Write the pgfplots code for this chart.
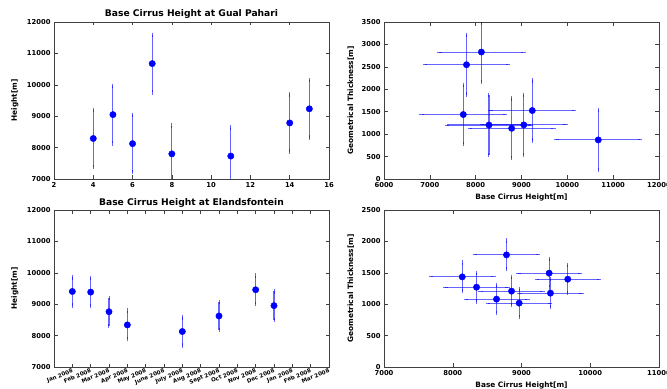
\documentclass[border=0pt]{standalone}
\usepackage{fontspec}
\setmainfont{DejaVu Sans}
\usepackage{pgfplots}
\usepackage{pgfplotstable}
\pgfplotsset{compat=1.18}
\definecolor{mplblue}{rgb}{0,0,1}

\pgfplotstableread{
x y ey
4 8290 910
5 9050 915
6 8125 910
7 10675 915
8 7800 900
11 7730 910
14 8785 910
15 9235 915
}\gualheight

\pgfplotstableread{
x y ex ey
7800 2547 905 665
8125 2830 915 663
7730 1437 910 659
8290 1203 910 666
9050 1206 910 666
8785 1130 910 667
9235 1526 915 670
10675 871 912 670
}\gualthick

\pgfplotstableread{
x y ey
1 9405 450
2 9385 450
3 8760 445
4 8340 455
7 8130 450
9 8625 445
11 9460 450
12 8955 450
}\elandheight

\pgfplotstableread{
x y ex ey
8138 1435 452 228
8346 1271 452 230
8637 1081 448 220
8782 1785 455 228
8855 1208 450 225
8966 1017 452 225
9402 1494 448 225
9421 1176 453 223
9673 1398 450 222
}\elandthick

\pgfplotsset{
  every axis title shift=0pt,
  base/.style={
    scale only axis, width=275bp, height=157bp,
    axis line style={black!75, line width=0.6bp},
    tick style={black!75, line width=0.5bp},
    major tick length=3.5bp,
    tick align=inside,
    scaled ticks=false,
    /pgf/number format/assume math mode=true,
    /pgf/number format/1000 sep={},
    ticklabel style={font=\fontsize{6.8}{7}\selectfont\bfseries},
    label style={font=\fontsize{7.4}{8}\selectfont\bfseries},
    title style={font=\fontsize{9.2}{10}\selectfont\bfseries, yshift=0pt},
    ylabel style={at={(axis description cs:-0.142,0.5)}, anchor=center, rotate=0},
    xlabel style={at={(axis description cs:0.5,-0.115)}, anchor=center},
  },
  pts/.style={only marks, mark=*, mark size=3.2bp, mplblue,
    mark options={fill=mplblue, draw=mplblue},
    error bars/error bar style={mplblue, opacity=0.6, line width=1.1bp},
    error bars/error mark options={mplblue, opacity=0.6, line width=1bp, mark size=2.2bp}},
}

\begin{document}
\begin{tikzpicture}
% top-left
\begin{axis}[base, at={(54bp,210bp)}, anchor=south west,
  xmin=2, xmax=16, xtick={2,4,...,16},
  ymin=7000, ymax=12000, ytick={7000,8000,...,12000},
  ylabel={Height[m]},
  title={Base Cirrus Height at Gual Pahari},
  title style={at={(0.5,1.049)}, anchor=center}]
\addplot+[pts, error bars/.cd, y dir=both, y explicit]
  table[x=x, y=y, y error=ey] {\gualheight};
\end{axis}
% top-right
\begin{axis}[base, at={(384bp,210bp)}, anchor=south west,
  xmin=6000, xmax=12000, xtick={6000,7000,...,12000},
  ymin=0, ymax=3500, ytick={0,500,...,3500},
  xlabel={Base Cirrus Height[m]},
  ylabel={Geometrical Thickness[m]},
  ylabel style={at={(axis description cs:-0.121,0.5)}}]
\addplot+[pts, error bars/.cd, x dir=both, x explicit, y dir=both, y explicit]
  table[x=x, y=y, x error=ex, y error=ey] {\gualthick};
\end{axis}
% bottom-left
\begin{axis}[base, at={(54bp,22bp)}, anchor=south west,
  xmin=0, xmax=15, xtick={1,...,15},
  xticklabels={Jan 2008,Feb 2008,Mar 2008,Apr 2008,May 2008,June 2008,July 2008,Aug 2008,Sept 2008,Oct 2008,Nov 2008,Dec 2008,Jan 2008,Feb 2008,Mar 2008},
  xticklabel style={rotate=22, anchor=north east, inner sep=1bp, font=\fontsize{5.6}{6}\selectfont\bfseries},
  ymin=7000, ymax=12000, ytick={7000,8000,...,12000},
  ylabel={Height[m]},
  title={Base Cirrus Height at Elandsfontein},
  title style={at={(0.5,1.042)}, anchor=center}]
\addplot+[pts, error bars/.cd, y dir=both, y explicit]
  table[x=x, y=y, y error=ey] {\elandheight};
\end{axis}
% bottom-right
\begin{axis}[base, at={(384bp,22bp)}, anchor=south west,
  xmin=7000, xmax=11000, xtick={7000,8000,...,11000},
  ymin=0, ymax=2500, ytick={0,500,...,2500},
  xlabel={Base Cirrus Height[m]},
  ylabel={Geometrical Thickness[m]},
  ylabel style={at={(axis description cs:-0.121,0.5)}}]
\addplot+[pts, error bars/.cd, x dir=both, x explicit, y dir=both, y explicit]
  table[x=x, y=y, x error=ex, y error=ey] {\elandthick};
\end{axis}
\pgfresetboundingbox
\useasboundingbox (0,0) rectangle (667bp,389bp);
\end{tikzpicture}
\end{document}
